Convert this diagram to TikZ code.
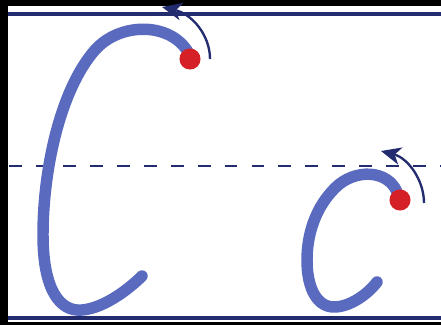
\documentclass[tikz,border=0pt]{standalone}
\usepackage{xcolor}
\usepackage{tikz}
\usetikzlibrary{arrows.meta}

\definecolor{penblue}{RGB}{90,106,190}
\definecolor{rulenavy}{RGB}{36,44,112}
\definecolor{dotred}{RGB}{214,32,40}

\begin{document}
\begin{tikzpicture}[
    x=0.03cm, y=-0.03cm,
    rule/.style={draw=rulenavy, line width=2.6pt},
    midrule/.style={draw=rulenavy, line width=2.2pt, dash pattern=on 11pt off 12pt},
    letter/.style={draw=penblue, line width=9.8pt, line cap=round, line join=round},
    startdot/.style={circle, fill=dotred, inner sep=0pt, minimum size=18pt},
    guide/.style={draw=rulenavy, line width=2pt, -{Stealth[length=17pt, width=15pt, inset=5pt]}}
  ]
  \useasboundingbox (0,0) rectangle (441,325);
  \fill[white] (0,0) rectangle (441,325);
  \fill[black] (0,0) rectangle (8,325);
  \fill[black] (0,0) rectangle (441,6);
  \fill[black] (0,322) rectangle (441,325);

  % writing lines
  \draw[rule] (8,14) -- (441,14);
  \draw[midrule] (9,166) -- (441,166);
  \draw[rule] (8,318) -- (441,318);

  % capital C
  \draw[letter] (188,52) .. controls (170,22) and (120,22) .. (95,50)
    .. controls (60,90) and (43,170) .. (43,235)
    .. controls (43,290) and (60,312) .. (82,310)
    .. controls (105,308) and (130,288) .. (142,276);
  % small c
  \draw[letter] (397,192) .. controls (388,170) and (355,168) .. (335,188)
    .. controls (315,208) and (307,235) .. (307,260)
    .. controls (307,290) and (318,307) .. (334,307)
    .. controls (350,307) and (368,294) .. (377,282);

  \node[startdot] (bigstart) at (190,59) {};
  \node[startdot] (smallstart) at (400,200) {};

  % stroke direction
  \coordinate (bigfrom) at (210,59);
  \coordinate (bigto) at (162,7);
  \coordinate (smallfrom) at (424,203);
  \coordinate (smallto) at (381,151);
  \draw[guide] (bigfrom) .. controls (210,35) and (192,14) .. (bigto);
  \draw[guide] (smallfrom) .. controls (424,180) and (408,158) .. (smallto);
\end{tikzpicture}
\end{document}
